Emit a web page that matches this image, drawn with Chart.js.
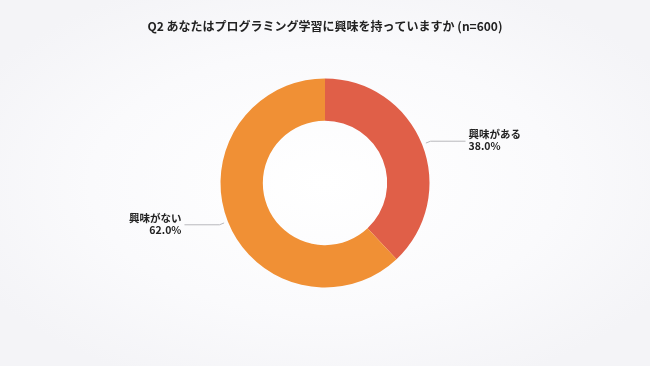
<!DOCTYPE html>
<html><head><meta charset="utf-8">
<script src="https://cdn.jsdelivr.net/npm/chart.js@4"></script>
<style>
html,body{margin:0;padding:0;width:650px;height:366px;overflow:hidden;}
body{background:radial-gradient(ellipse 60% 60% at 50% 50%, #ffffff 0%, #fafafc 60%, #f4f4f7 100%);}
#wrap{position:absolute;left:0;top:0;width:650px;height:366px;}
</style></head>
<body><div id="wrap"><canvas id="c" width="650" height="366"></canvas></div>
<script>
const title = 'Q2 あなたはプログラミング学習に興味を持っていますか (n=600)';
const categories = ['興味がある', '興味がない'];
const values = [38.0, 62.0];
const colors = ['#e05f48', '#f09035'];

const FONT = '"Noto Sans CJK JP", "Noto Sans", sans-serif';

const labelPlugin = {
  id: 'labelPlugin',
  afterDraw(chart) {
    const ctx = chart.ctx;
    ctx.save();
    ctx.fillStyle = '#222';
    ctx.font = 'bold 12px ' + FONT;
    ctx.textAlign = 'center';
    ctx.textBaseline = 'middle';
    ctx.fillText(title, 325, 26);

    const meta = chart.getDatasetMeta(0);
    meta.data.forEach((arc, i) => {
      const p = arc.getProps(['x','y','startAngle','endAngle','outerRadius'], true);
      const mid = (p.startAngle + p.endAngle) / 2;
      const c = Math.cos(mid), s = Math.sin(mid);
      const x0 = p.x + (p.outerRadius + 4) * c, y0 = p.y + (p.outerRadius + 4) * s;
      const x1 = p.x + (p.outerRadius + 9) * c, y1 = p.y + (p.outerRadius + 9) * s;
      const dir = c >= 0 ? 1 : -1;
      const x2 = x1 + dir * 35;
      ctx.strokeStyle = '#b8b8bc';
      ctx.lineWidth = 1;
      ctx.beginPath();
      ctx.moveTo(x0, y0); ctx.lineTo(x1, y1); ctx.lineTo(x2, y1);
      ctx.stroke();
      ctx.fillStyle = '#222';
      ctx.font = 'bold 10.5px ' + FONT;
      ctx.textAlign = dir > 0 ? 'left' : 'right';
      const tx = x2 + dir * 3;
      ctx.fillText(categories[i], tx, y1 - 7);
      ctx.fillText(values[i].toFixed(1) + '%', tx, y1 + 5);
    });
    ctx.restore();
  }
};

new Chart(document.getElementById('c'), {
  type: 'doughnut',
  data: {
    labels: categories,
    datasets: [{
      data: values,
      backgroundColor: colors,
      borderWidth: 0
    }]
  },
  options: {
    responsive: false,
    animation: false,
    cutout: '59.5%',
    layout: { padding: { top: 78.5, bottom: 78.5, left: 100, right: 100 } },
    plugins: { legend: { display: false }, tooltip: { enabled: false }, title: { display: false } }
  },
  plugins: [labelPlugin]
});
</script></body></html>
